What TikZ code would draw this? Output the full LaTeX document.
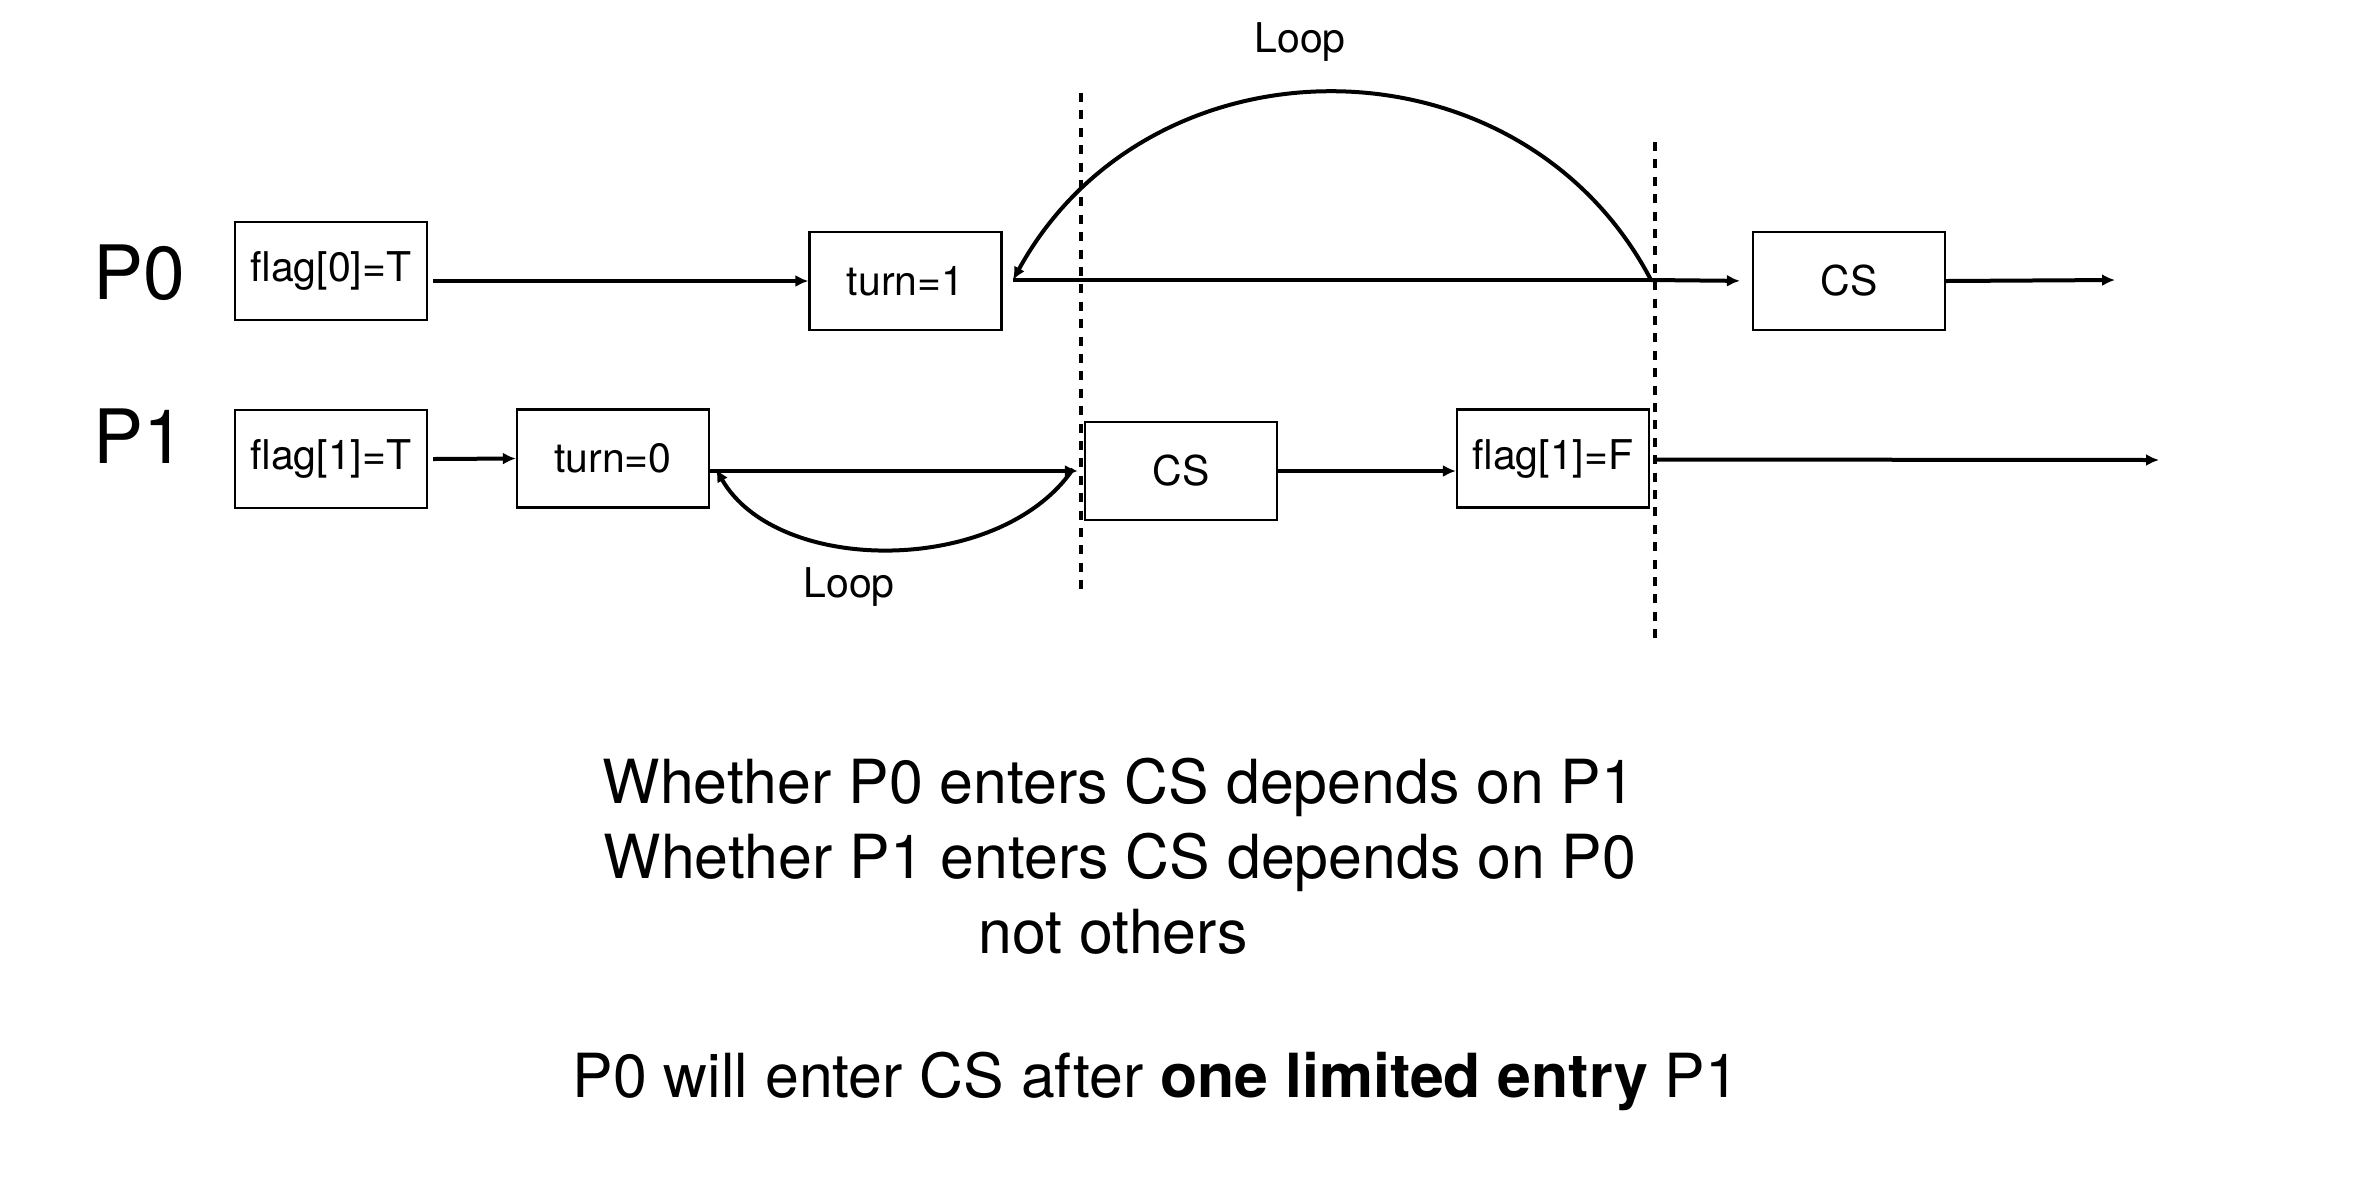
\documentclass[tikz,border=0pt]{standalone}
\usepackage{fontspec}
\setmainfont{TeX Gyre Heros}
\usetikzlibrary{arrows.meta}
\newcommand\boxfnt{\fontsize{20.5}{24}\selectfont}
\newcommand\procfnt{\fontsize{37.5}{44}\selectfont}
\newcommand\mainfnt{\fontsize{30.4}{36}\selectfont}
\tikzset{
  stepbox/.style={draw, line width=1.1pt, minimum width=96pt, minimum height=49pt, inner sep=0pt, font=\boxfnt},
  conn/.style={line width=2pt, -{Latex[length=6.5pt,width=6pt]}},
  divider/.style={line width=2pt, dash pattern=on 4.5pt off 4.2pt},
  lbl/.style={inner sep=0pt, anchor=base, font=\boxfnt},
  mainline/.style={inner sep=0pt, anchor=base, font=\mainfnt},
  proc/.style={inner sep=0pt, anchor=base west, font=\procfnt}
}
\begin{document}
\begin{tikzpicture}[x=0.5pt,y=-0.5pt]
\useasboundingbox (0,0) rectangle (2364,1196);
% process labels
\node[proc] (p0) at (93,299) {P0};
\node[proc] (p1) at (93,463) {P1};
% P0 row
\node[stepbox] (f0) at (331,271) {flag[0]=T};
\node[stepbox] (t1) at (905.5,281) {turn=1};
\node[stepbox] (cs0) at (1849,281) {CS};
\coordinate (p0start) at (1013,280);
\coordinate (p0loop) at (1651,280);
\coordinate (p0end) at (2115,280);
\draw[conn] (f0.east |- t1) ++(5,0) -- (t1.west);
\draw[line width=2pt] (p0start) -- (p0loop);
\draw[conn, shorten >=6pt] (p0loop) -- (cs0.west);
\draw[conn] (cs0.east) -- (p0end);
\draw[conn] (p0loop) .. controls (1520,30) and (1150,30) .. (p0start);
\node[lbl] (loop0) at (1300,52) {Loop};
% P1 row
\node[stepbox] (f1) at (331,459) {flag[1]=T};
\node[stepbox] (t0) at (613,458.5) {turn=0};
\node[stepbox] (cs1) at (1181,471) {CS};
\node[stepbox] (ff1) at (1553,458.5) {flag[1]=F};
\coordinate (p1loopend) at (716,469);
\coordinate (p1loopstart) at (1073,469);
\coordinate (p1end) at (2159,460);
\draw[conn] (f1.east) ++(5,0) -- (t0.west);
\draw[conn, shorten >=3pt] (t0.east |- cs1) -- (cs1.west);
\draw[conn] (p1loopstart) .. controls (1000,576) and (777,576) .. (p1loopend);
\node[lbl] (loop1) at (849,597) {Loop};
\draw[conn] (cs1.east) -- (ff1.west |- cs1);
\draw[conn] (ff1.east) ++(6,1) -- (p1end);
% dividers
\coordinate (d1top) at (1081,93);
\coordinate (d1bot) at (1081,591);
\coordinate (d2top) at (1655,142);
\coordinate (d2bot) at (1655,638);
\draw[divider] (d1top) -- (d1bot);
\draw[divider] (d2top) -- (d2bot);
% explanation
\node[mainline] (l1) at (1119,803) {Whether P0 enters CS depends on P1};
\node[mainline] (l2) at (1120,878) {Whether P1 enters CS depends on P0};
\node[mainline] (l3) at (1113,953) {not others};
\node[mainline] (l4) at (1156,1097) {P0 will enter CS after \textbf{one limited entry} P1};
\end{tikzpicture}
\end{document}
